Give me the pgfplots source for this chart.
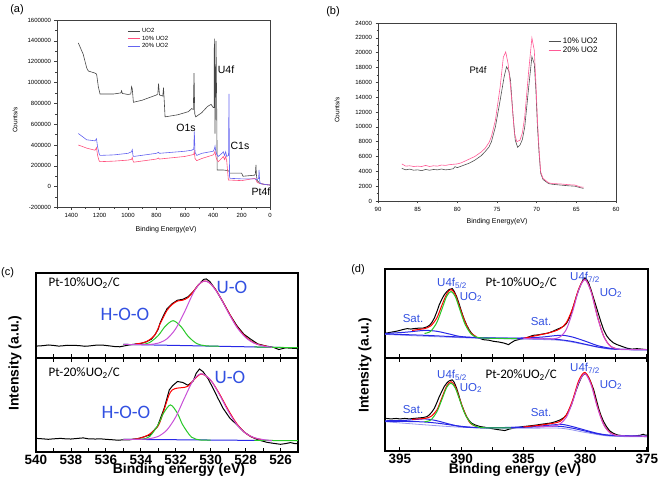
\documentclass[border=0pt]{standalone}
\usepackage{fontspec}
\setmainfont{Liberation Sans}
\newfontfamily\carlito{Carlito}
\usepackage{pgfplots}
\pgfplotsset{compat=1.18}
\definecolor{cgray}{RGB}{70,70,70}
\definecolor{cpink}{RGB}{255,80,125}
\definecolor{cblue}{RGB}{100,100,240}
\definecolor{bgray}{RGB}{80,80,80}
\definecolor{bpink}{RGB}{255,90,150}
\definecolor{tblue}{RGB}{50,80,225}
\definecolor{fred}{RGB}{255,0,0}
\definecolor{fgreen}{RGB}{40,200,40}
\definecolor{fmag}{RGB}{200,80,215}
\definecolor{fblue}{RGB}{40,40,230}
\definecolor{flav}{RGB}{150,150,240}
\pgfplotsset{
  spec/.style={scale only axis, anchor=south west, ymin=0, ymax=1, ytick=\empty,
    axis line style={line width=1.2pt}, tick style={line width=0.8pt, black},
    tick align=inside, major tick length=4pt, minor tick length=4pt,
    /pgf/number format/assume math mode=true,
    xticklabel style={font=\bfseries\fontsize{13.5}{13.5}\selectfont, yshift=0.5pt}},
  small/.style={scale only axis, anchor=south west, tick align=outside,
    xtick pos=bottom, ytick pos=left, scaled y ticks=false,
    /pgf/number format/1000 sep={}, /pgf/number format/assume math mode=true,
    tick label style={font=\fontsize{6}{6.5}\selectfont},
    major tick length=2.5pt, minor tick length=1.5pt,
    axis line style={black!75, line width=0.5pt}, tick style={black!75, line width=0.4pt},
    legend cell align=left,
    legend image code/.code={\draw[#1] (0pt,0pt) -- (12pt,0pt);}},
}
\begin{document}
\begin{tikzpicture}[x=1pt,y=1pt]
\path[use as bounding box] (0,0) rectangle (661,482);
% ---------------- (a)
\begin{axis}[small, at={(57pt,274.5pt)}, width=213pt, height=187.5pt,
  xmin=0, xmax=1500, x dir=reverse, ymin=-200000, ymax=1600000,
  xtick={0,200,...,1400}, minor xtick={100,300,...,1500},
  ytick={-200000,0,200000,400000,600000,800000,1000000,1200000,1400000,1600000},
  yticklabels={-200000,0,200000,400000,600000,800000,1000000,1200000,1400000,1600000},
  minor ytick={-100000,100000,300000,500000,700000,900000,1100000,1300000,1500000},
  legend style={at={(0.33,0.965)}, anchor=north west, draw=none, fill=none,
    font=\fontsize{6}{6.5}\selectfont, row sep=-2.5pt, inner sep=0pt}]
\addplot[cgray, line width=0.6pt] coordinates {
(1350,1380000)(1315,1270000)(1291,1140000)(1279,1110000)(1232,1090000)(1221,1080000)
(1209,960000)(1197,890000)(1100,890000)(1050,900000)(1045,920000)(1040,895000)
(1000,885000)(980,890000)(975,960000)(970,940000)(962,810000)(900,830000)(800,880000)
(790,890000)(785,990000)(778,880000)(755,870000)(750,950000)(745,830000)(739,670000)
(650,690000)(575,720000)(551,750000)(540,740000)(535,1090000)(530,700000)(523,670000)
(481,710000)(440,770000)(415,790000)(400,760000)(394,760000)(392,1420000)(390,1300000)
(387,510000)(383,1000000)(380,1400000)(375,700000)(372,160000)(330,160000)(300,155000)
(290,150000)(283,130000)(200,130000)(190,100000)(110,110000)(103,120000)(99,210000)
(96,120000)(91,60000)(70,30000)(30,20000)(0,16000)};
\addlegendentry{UO2}
\addplot[cpink, line width=0.6pt] coordinates {
(1350,400000)(1320,385000)(1291,370000)(1232,350000)(1222,375000)(1214,300000)
(1204,250000)(1197,240000)(1100,245000)(1000,255000)(975,262000)(970,280000)
(965,250000)(960,235000)(800,265000)(785,275000)(780,265000)(600,290000)(551,305000)
(537,310000)(533,340000)(528,270000)(516,250000)(481,270000)(400,305000)(392,320000)
(387,340000)(383,300000)(375,260000)(364,240000)(335,280000)(329,290000)(320,260000)
(312,290000)(305,250000)(293,64000)(200,58000)(106,80000)(100,70000)(90,40000)
(70,30000)(30,20000)(0,16000)};
\addlegendentry{10\% UO2}
\addplot[cblue, line width=0.6pt] coordinates {
(1350,510000)(1320,480000)(1291,450000)(1232,440000)(1222,460000)(1214,380000)
(1204,320000)(1197,300000)(1100,305000)(1000,320000)(975,335000)(970,355000)
(965,300000)(960,290000)(800,320000)(785,330000)(780,320000)(600,340000)(551,350000)
(537,360000)(533,530000)(528,330000)(516,300000)(481,320000)(400,340000)(392,360000)
(387,390000)(383,350000)(375,310000)(364,290000)(335,325000)(329,335000)(320,300000)
(312,335000)(305,290000)(292,300000)(289,890000)(285,100000)(282,80000)(200,75000)
(106,75000)(95,65000)(80,80000)(77,160000)(73,60000)(68,30000)(30,20000)(0,16000)};
\addlegendentry{20\% UO2}
\end{axis}
% ---------------- (b)
\begin{axis}[small, at={(378pt,281pt)}, width=238pt, height=178pt,
  xmin=60, xmax=90, x dir=reverse, ymin=0, ymax=24000,
  xtick={60,65,...,90}, minor x tick num=1,
  ytick={0,2000,...,24000}, minor y tick num=1,
  legend style={at={(0.715,0.93)}, anchor=north west, draw=none, fill=none,
    font=\fontsize{8}{8.5}\selectfont, row sep=-2pt, inner sep=0pt}]
\addplot[bgray, line width=0.6pt] coordinates {
(87,4400)(86.5,4200)(86,4300)(85.5,4150)(85,4200)(84.5,4090)(84,4250)(83.5,4150)
(83,4250)(82.5,4200)(82,4310)(81.5,4200)(81,4250)(80.5,4350)(80.3,4630)(80,4500)
(79.5,4700)(79,4900)(78.5,5100)(77.8,5500)(77,6100)(76.5,6650)(76,7300)(75.7,8000)
(75.2,10000)(74.6,13600)(74.1,16750)(73.8,18100)(73.5,17500)(73.3,16300)(73,11800)
(72.7,8200)(72.4,7250)(72.1,7550)(71.8,8300)(71.5,10000)(71,15400)(70.6,19450)
(70.3,18500)(70.1,15000)(69.9,10000)(69.7,6500)(69.5,3750)(69.2,2900)(68.5,2350)
(68,2250)(67,2150)(66,2050)(65.2,2000)(64.5,1800)(64.1,1700)};
\addlegendentry{10\% UO2}
\addplot[bpink, line width=0.6pt] coordinates {
(87,5000)(86.5,4700)(86,4750)(85.5,4650)(85,4700)(84.5,4650)(84,4800)(83.5,4650)
(83,4750)(82.5,4700)(82,4850)(81.5,4800)(81,4900)(80.5,4950)(80,5000)(79.5,5150)
(79,5400)(78.5,5650)(77.8,6000)(77,6600)(76.5,7100)(76,7900)(75.7,8700)(75.2,10900)
(74.6,15400)(74.2,19400)(73.9,20100)(73.6,18500)(73.3,15500)(73.1,13100)(72.8,9100)
(72.5,8000)(72.1,8200)(71.8,9200)(71.5,11400)(71,17600)(70.6,22000)(70.3,20300)
(70.1,16000)(69.9,10900)(69.7,7000)(69.5,3950)(69.2,3050)(68.5,2450)(68,2350)
(67,2300)(66,2200)(65.2,2150)(64.5,1900)(64.1,1850)};
\addlegendentry{20\% UO2}
\end{axis}
% ---------------- (c) top
\begin{axis}[spec, at={(36pt,124pt)}, width=262pt, height=85pt,
  xmin=525, xmax=540, x dir=reverse,
  xtick={526,528,...,540}, minor xtick={525,527,...,539}, xticklabels={},
  xtick pos=bottom]
\addplot[black, line width=1pt] coordinates {
(540,.14)(539.6,.145)(539.3,.153)(539,.148)(538.7,.14)(538.5,.143)(538.2,.15)(537.8,.149)
(537.5,.145)(537.2,.138)(537,.141)(536.6,.15)(536.2,.152)(535.9,.145)(535.5,.135)
(535.2,.132)(535,.14)(534.7,.152)(534.3,.165)(534,.17)(533.7,.19)(533.4,.22)(533.2,.27)
(533,.34)(532.9,.41)(532.7,.50)(532.5,.58)(532.2,.64)(531.9,.68)(531.6,.69)(531.3,.72)
(531,.78)(530.7,.86)(530.4,.925)(530.25,.93)(530.05,.90)(529.7,.80)(529.3,.66)
(528.9,.51)(528.5,.38)(528.1,.28)(527.7,.22)(527.3,.165)(526.8,.14)(526.4,.125)
(526.1,.10)(525.9,.11)(525.7,.12)(525.4,.115)(525.2,.114)(525,.11)};
\addplot[fred, line width=1pt, smooth] coordinates {
(534.3,.165)(533.7,.19)(533.2,.27)(532.9,.40)(532.5,.56)(532.2,.63)(531.9,.67)(531.6,.68)
(531.3,.71)(531,.78)(530.7,.86)(530.4,.905)(530.1,.89)(529.7,.80)(529.3,.66)(528.9,.51)
(528.5,.37)(528.1,.27)(527.7,.20)(527.3,.16)(526.8,.14)};
\addplot[fblue, line width=1pt] coordinates {(535,.16)(526,.124)};
\addplot[fgreen, line width=1pt, smooth] coordinates {
(535,.16)(534,.159)(533.5,.181)(533,.265)(532.6,.373)(532.15,.439)(531.7,.37)(531.3,.258)
(530.8,.17)(530.3,.144)(529.5,.138)};
\addplot[fgreen, line width=1pt] coordinates {(527.5,.13)(524.9,.12)};
\addplot[fmag, line width=1pt, smooth] coordinates {
(535,.16)(534,.157)(533.5,.159)(533,.175)(532.5,.226)(532,.345)(531.5,.541)(531,.764)
(530.65,.87)(530.35,.906)(530,.873)(529.5,.731)(529,.538)(528.5,.362)(528,.241)
(527.5,.173)(527,.1425)(526.5,.126)};
\end{axis}
% ---------------- (c) bottom
\begin{axis}[spec, at={(36pt,30pt)}, width=262pt, height=94pt,
  xmin=525, xmax=540, x dir=reverse,
  xtick={526,528,...,540}, minor xtick={525,527,...,539},
  xtick pos=both, xticklabel pos=lower]
\addplot[black, line width=1pt] coordinates {
(540,.145)(539.6,.14)(539.3,.135)(539,.14)(538.6,.145)(538.3,.14)(538,.138)(537.6,.145)
(537.3,.15)(537,.14)(536.6,.138)(536.3,.14)(536,.135)(535.6,.13)(535.3,.125)(535,.13)
(534.7,.128)(534.1,.145)(533.5,.18)(533.05,.27)(532.66,.465)(532.37,.66)(532.18,.705)
(531.9,.75)(531.6,.74)(531.3,.71)(531,.755)(530.83,.837)(530.64,.883)(530.44,.855)
(530.15,.78)(529.87,.68)(529.58,.57)(529.29,.465)(528.9,.36)(528.5,.29)(528.1,.215)
(527.7,.163)(527.26,.128)(526.78,.103)(526.4,.092)(526,.082)(525.7,.09)(525.43,.10)
(525.2,.09)(525,.089)};
\addplot[fred, line width=1pt, smooth] coordinates {
(534.5,.135)(534,.15)(533.5,.19)(533,.28)(532.7,.43)(532.4,.60)(532.2,.66)(531.9,.68)
(531.6,.685)(531.3,.70)(531,.76)(530.7,.815)(530.5,.83)(530.2,.80)(529.9,.74)(529.5,.62)
(529,.45)(528.5,.30)(528,.20)(527.5,.15)(527,.13)};
\addplot[fblue, line width=1pt] coordinates {(535,.135)(526.5,.122)};
\addplot[fgreen, line width=1pt, smooth] coordinates {
(535,.135)(534,.136)(533.5,.164)(533,.292)(532.7,.412)(532.3,.501)(531.9,.411)
(531.6,.289)(531.1,.159)(530.6,.128)(530,.1275)};
\addplot[fgreen, line width=1pt] coordinates {(527.5,.124)(524.9,.12)};
\addplot[fmag, line width=1pt, smooth] coordinates {
(535,.135)(534,.135)(533.5,.142)(533,.166)(532.5,.235)(532,.373)(531.5,.574)(531,.762)
(530.54,.833)(530,.765)(529.5,.611)(529,.436)(528.5,.292)(528,.20)(527.5,.152)
(527,.132)(526.5,.122)};
\end{axis}
% ---------------- (d) top
\begin{axis}[spec, at={(385pt,124pt)}, width=263pt, height=89pt,
  xmin=374.9, xmax=396.2, x dir=reverse,
  xtick={375,380,...,395}, minor xtick={377.5,382.5,387.5,392.5}, xticklabels={},
  xtick pos=bottom]
\addplot[black, line width=1pt] coordinates {
(396.1,.28)(395.7,.29)(395.3,.30)(395,.31)(394.75,.32)(394.4,.33)(394.1,.325)(393.9,.33)
(393.5,.335)(393.1,.337)(392.8,.35)(392.6,.367)(392.4,.40)(392.2,.45)(392,.52)(391.8,.60)
(391.6,.66)(391.4,.71)(391.2,.745)(391,.77)(390.75,.78)(390.6,.75)(390.4,.69)(390.2,.61)
(390,.52)(389.8,.44)(389.6,.375)(389.4,.32)(389.2,.28)(389,.25)(388.8,.23)(388.5,.22)
(388.25,.206)(387.8,.20)(387.4,.187)(387,.18)(386.6,.169)(386.4,.16)(386.2,.15)(386,.17)
(385.7,.195)(385.3,.21)(385,.217)(384.6,.235)(384.2,.255)(383.8,.26)(383.4,.27)(383,.28)
(382.6,.30)(382.3,.32)(382,.337)(381.7,.36)(381.5,.39)(381.3,.44)(381.1,.51)(380.9,.60)
(380.7,.69)(380.5,.77)(380.3,.84)(380.15,.88)(380,.90)(379.85,.88)(379.7,.84)(379.5,.76)
(379.3,.67)(379.1,.58)(378.9,.49)(378.7,.40)(378.5,.32)(378.25,.25)(378,.206)(377.7,.17)
(377.4,.15)(377,.13)(376.6,.11)(376.2,.10)(375.8,.105)(375.4,.10)(375,.094)};
\addplot[flav, line width=0.8pt, smooth] coordinates {
(396.2,.265)(390,.228)(385,.212)(382,.198)(380,.15)(378,.10)(375,.09)};
\addplot[fblue, line width=1pt, smooth] coordinates {
(396.2,.27)(393,.255)(390,.235)(388,.225)(385,.22)(383,.215)(382,.205)(381,.185)
(380,.155)(379,.125)(378,.105)(377,.097)(375,.094)};
\addplot[fblue, line width=1pt, smooth] coordinates {
(396.2,.275)(394.5,.29)(393,.31)(392,.30)(391,.27)(390,.24)(388,.226)(385,.225)
(383.5,.235)(382.5,.25)(381.8,.255)(381,.235)(380,.19)(379,.14)(378,.11)(377,.097)(375,.094)};
\addplot[fred, line width=1pt, smooth] coordinates {
(394,.31)(393.5,.32)(393,.33)(392.5,.36)(392,.45)(391.6,.59)(391.2,.72)(390.85,.77)
(390.5,.71)(390.1,.55)(389.7,.40)(389.3,.29)(388.8,.24)};
\addplot[fred, line width=1pt, smooth] coordinates {
(385,.22)(384.5,.235)(384,.25)(383.5,.265)(383,.28)(382.5,.30)(382,.33)(381.5,.40)
(381,.56)(380.5,.78)(380,.885)(379.5,.745)(379,.47)(378.5,.25)(378,.14)(377.5,.105)};
\addplot[fgreen, line width=1pt, smooth] coordinates {
(393,.276)(392.5,.30)(392,.40)(391.6,.545)(391.2,.695)(390.85,.747)(390.5,.688)
(390.1,.528)(389.7,.374)(389.2,.266)(388.7,.232)(388.2,.224)(387,.22)(385.5,.217)};
\addplot[fmag, line width=1pt, smooth] coordinates {
(385,.22)(384,.217)(383,.216)(382.5,.216)(382,.239)(381.5,.325)(381,.523)(380.5,.769)
(380,.88)(379.5,.739)(379,.463)(378.5,.245)(378,.139)(377.5,.106)(377,.097)(375,.094)};
\end{axis}
% ---------------- (d) bottom
\begin{axis}[spec, at={(385pt,31pt)}, width=263pt, height=93pt,
  xmin=374.9, xmax=396.2, x dir=reverse,
  xtick={375,380,...,395}, minor xtick={377.5,382.5,387.5,392.5},
  xtick pos=both, xticklabel pos=lower]
\addplot[black, line width=1pt] coordinates {
(396.1,.35)(395.7,.345)(395.3,.35)(395,.345)(394.6,.35)(394.2,.345)(393.9,.35)(393.5,.355)
(393.1,.36)(392.8,.37)(392.6,.39)(392.4,.42)(392.2,.46)(392,.52)(391.8,.586)(391.6,.64)
(391.4,.694)(391.2,.73)(391,.755)(390.75,.765)(390.6,.74)(390.4,.676)(390.2,.59)
(390,.496)(389.8,.43)(389.6,.37)(389.4,.33)(389.2,.30)(388.9,.28)(388.5,.263)(388.1,.255)
(387.7,.245)(387.3,.235)(386.9,.227)(386.5,.22)(386.1,.237)(385.6,.25)(385,.263)
(384.5,.27)(383.9,.28)(383.4,.29)(382.8,.30)(382.4,.315)(382,.335)(381.7,.36)(381.5,.39)
(381.3,.44)(381.1,.496)(380.9,.58)(380.7,.66)(380.5,.73)(380.3,.79)(380.15,.82)(380,.83)
(379.85,.82)(379.7,.79)(379.5,.73)(379.3,.66)(379.1,.56)(378.9,.46)(378.7,.38)
(378.5,.317)(378.25,.26)(378,.216)(377.7,.19)(377.4,.173)(377,.165)(376.6,.162)
(376.2,.16)(375.8,.165)(375.5,.17)(375.3,.18)(375.1,.17)(374.9,.173)};
\addplot[flav, line width=0.8pt, smooth] coordinates {
(396.2,.315)(390,.255)(385,.245)(382,.245)(380,.2)(378,.16)(375,.152)};
\addplot[fblue, line width=1pt, smooth] coordinates {
(396.2,.32)(393.5,.315)(392,.30)(390,.265)(388.5,.25)(385,.255)(383,.265)(382,.265)
(381,.245)(380,.215)(379,.185)(378,.168)(376,.16)(375,.158)};
\addplot[fblue, line width=1pt, smooth] coordinates {
(396.2,.325)(394.5,.33)(393,.345)(392,.325)(391,.29)(390,.262)(388,.25)(385,.258)
(383.5,.27)(382.5,.282)(381.8,.285)(381,.262)(380,.225)(379,.19)(378,.17)(376,.162)(375,.16)};
\addplot[fred, line width=1pt, smooth] coordinates {
(394,.34)(393.5,.345)(393,.35)(392.5,.37)(392,.44)(391.6,.57)(391.2,.70)(390.85,.745)
(390.5,.69)(390.1,.54)(389.7,.40)(389.3,.30)(388.8,.265)};
\addplot[fred, line width=1pt, smooth] coordinates {
(385,.258)(384.5,.265)(384,.272)(383.5,.28)(383,.29)(382.5,.30)(382,.32)(381.5,.39)
(381,.55)(380.5,.76)(380,.845)(379.5,.725)(379,.48)(378.5,.29)(378,.20)(377.5,.17)};
\addplot[fgreen, line width=1pt, smooth] coordinates {
(393,.315)(392.5,.333)(392,.421)(391.6,.551)(391.2,.685)(390.85,.73)(390.5,.675)
(390.1,.531)(389.7,.391)(389.2,.293)(388.7,.26)(388.2,.25)(386,.25)};
\addplot[fmag, line width=1pt, smooth] coordinates {
(384,.258)(383,.265)(382.5,.268)(382,.294)(381.5,.365)(381,.531)(380.5,.738)(380,.83)
(379.5,.708)(379,.471)(378.5,.285)(378,.197)(377.5,.169)(377,.162)(375,.158)};
\end{axis}
% ---------------- labels
\node[font=\fontsize{11}{11}\selectfont] at (17,472) {(a)};
\node[font=\fontsize{11}{11}\selectfont] at (333,470) {(b)};
\node[font=\fontsize{11}{11}\selectfont] at (7.5,209) {(c)};
\node[font=\fontsize{11}{11}\selectfont] at (358,212) {(d)};
\node[rotate=90, font=\fontsize{6.5}{7}\selectfont] at (15,362) {Counts/s};
\node[font=\fontsize{7}{8}\selectfont] at (166,252) {Binding Energy(eV)};
\node[font=\fontsize{10.5}{11}\selectfont] at (226,412) {U4f};
\node[font=\fontsize{10.5}{11}\selectfont] at (186,354) {O1s};
\node[font=\fontsize{10.5}{11}\selectfont] at (240,336) {C1s};
\node[font=\fontsize{10.5}{11}\selectfont] at (261,290) {Pt4f};
\node[rotate=90, font=\fontsize{6.5}{7}\selectfont] at (337,372) {Counts/s};
\node[font=\fontsize{7}{8}\selectfont] at (497,260) {Binding Energy(eV)};
\node[font=\fontsize{9.5}{10}\selectfont] at (478,412) {Pt4f};
% (c)
\node[anchor=west, font=\carlito\fontsize{13}{13}\selectfont] at (45,199) {Pt-10\%UO\textsubscript{2}/C};
\node[anchor=west, font=\carlito\fontsize{13}{13}\selectfont] at (45,109) {Pt-20\%UO\textsubscript{2}/C};
\node[text=tblue, font=\carlito\fontsize{19}{19}\selectfont] at (232,195) {U-O};
\node[text=tblue, font=\carlito\fontsize{19}{19}\selectfont] at (125,168) {H-O-O};
\node[text=tblue, font=\carlito\fontsize{19}{19}\selectfont] at (230,105) {U-O};
\node[text=tblue, font=\carlito\fontsize{19}{19}\selectfont] at (126,70) {H-O-O};
\node[rotate=90, font=\bfseries\fontsize{14}{14}\selectfont] at (15,119) {Intensity (a.u.)};
\node[font=\bfseries\fontsize{14}{14}\selectfont] at (179,12) {Binding energy (eV)};
% (d)
\node[rotate=90, font=\bfseries\fontsize{14}{14}\selectfont] at (365,117) {Intensity (a.u.)};
\node[font=\bfseries\fontsize{14}{14}\selectfont] at (515,12) {Binding energy (eV)};
\node[anchor=west, font=\carlito\fontsize{13}{13}\selectfont] at (482,199) {Pt-10\%UO\textsubscript{2}/C};
\node[anchor=west, font=\carlito\fontsize{13}{13}\selectfont] at (482,107) {Pt-20\%UO\textsubscript{2}/C};
\begin{scope}[every node/.style={text=tblue, font=\fontsize{11.5}{12}\selectfont, inner sep=0pt}]
\node at (452,199) {U4f\textsubscript{5/2}};
\node at (471,185) {UO\textsubscript{2}};
\node at (585,205) {U4f\textsubscript{7/2}};
\node at (611,189) {UO\textsubscript{2}};
\node at (413,163) {Sat.};
\node at (541,160) {Sat.};
\node at (452,107) {U4f\textsubscript{5/2}};
\node at (471,94) {UO\textsubscript{2}};
\node at (585,114) {U4f\textsubscript{7/2}};
\node at (611,97) {UO\textsubscript{2}};
\node at (413,72) {Sat.};
\node at (541,69) {Sat.};
\end{scope}
\end{tikzpicture}
\end{document}
